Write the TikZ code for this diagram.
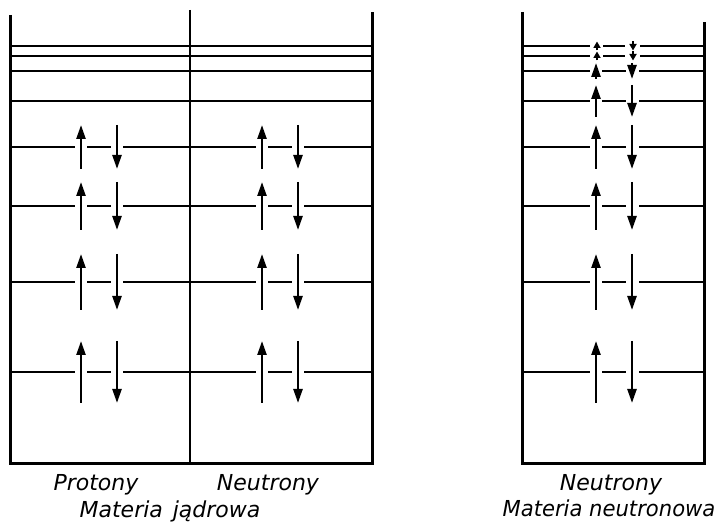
\documentclass[tikz,border=0pt]{standalone}
\usepackage{fontspec}
\setmainfont{DejaVu Sans}
\usetikzlibrary{arrows.meta}
\begin{document}
\begin{tikzpicture}[x=1pt,y=-1pt,
  wall/.style={line width=3pt},
  divider/.style={line width=1.6pt},
  level/.style={line width=2pt},
  spin/.style={line width=2.4pt,-{Triangle[length=14pt,width=9pt]}},
  tinyspin/.style={line width=1.8pt,-{Triangle[length=6.5pt,width=7pt]}},
  lab/.style={font=\fontsize{22}{22}\selectfont\itshape, anchor=base, inner sep=0pt}]
\useasboundingbox (0,0) rectangle (726,526);
% left box (nuclear matter)
\draw[wall] (10,15) -- (10,464) -- (372,464) -- (372,12);
\draw[divider] (190,10) -- (190,464);
\foreach \y in {46,56,71,101}
  \draw[level] (10,\y) -- (372,\y);
\foreach \y/\h in {147/22,206/24,282/28,372/31}{
  \draw[level] (10,\y) -- (75,\y) (87,\y) -- (111,\y) (123,\y) -- (256,\y)
               (268,\y) -- (292,\y) (304,\y) -- (372,\y);
  \draw[spin] (81,{\y+\h}) -- (81,{\y-\h});
  \draw[spin] (117,{\y-\h}) -- (117,{\y+\h});
  \draw[spin] (262,{\y+\h}) -- (262,{\y-\h});
  \draw[spin] (298,{\y-\h}) -- (298,{\y+\h});
}
% right box (neutron matter)
\draw[wall] (522,12) -- (522,464) -- (704,464) -- (704,22);
\foreach \y/\h in {46/4.5,56/4.5}{
  \draw[level] (522,\y) -- (590,\y) (603,\y) -- (625,\y) (640,\y) -- (704,\y);
  \draw[tinyspin] (597,{\y+\h}) -- (597,{\y-\h});
  \draw[tinyspin] (633,{\y-\h}) -- (633,{\y+\h});
}
\foreach \y/\h in {71/8,101/16,147/22,206/24,282/28,372/31}{
  \draw[level] (522,\y) -- (590,\y) (602,\y) -- (626,\y) (639,\y) -- (704,\y);
  \draw[spin] (596,{\y+\h}) -- (596,{\y-\h});
  \draw[spin] (632,{\y-\h}) -- (632,{\y+\h});
}
% labels
\node[lab] (pro) at (96,491) {Protony};
\node[lab] (neuA) at (268,491) {Neutrony};
\node[lab] (mj) at (170,518) {Materia\hspace{0.45em}jądrowa};
\node[lab] (neuB) at (611,491) {Neutrony};
\node[lab, xscale=0.96] (mn) at (609,517) {Materia neutronowa};
\end{tikzpicture}
\end{document}
